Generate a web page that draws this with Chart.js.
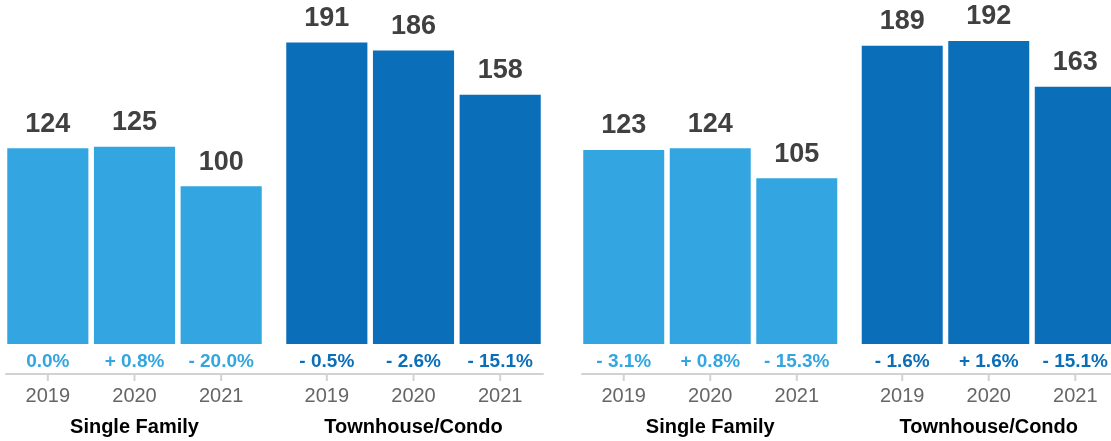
<!DOCTYPE html>
<html>
<head>
<meta charset="utf-8">
<script src="https://cdn.jsdelivr.net/npm/chart.js@4/dist/chart.umd.min.js"></script>
<style>
  html, body { margin: 0; padding: 0; background: #fff; }
  body { width: 1111px; height: 441px; overflow: hidden; position: relative; }
  canvas { position: absolute; top: 0; }
</style>
</head>
<body>
<canvas id="left" width="558" height="441" style="left:-5px"></canvas>
<canvas id="right" width="557" height="441" style="left:571px"></canvas>
<script>
// ---- data ----
const groups = ['Single Family', 'Townhouse/Condo'];
const years = ['2019', '2020', '2021'];

const leftSingleFamily = [124, 125, 100];
const leftTownhouse = [191, 186, 158];
const leftSingleFamilyChange = ['0.0%', '+ 0.8%', '- 20.0%'];
const leftTownhouseChange = ['- 0.5%', '- 2.6%', '- 15.1%'];

const rightSingleFamily = [123, 124, 105];
const rightTownhouse = [189, 192, 163];
const rightSingleFamilyChange = ['- 3.1%', '+ 0.8%', '- 15.3%'];
const rightTownhouseChange = ['- 1.6%', '+ 1.6%', '- 15.1%'];

const groupColors = ['#33a6e1', '#0a6eb9'];
const FONT = '"Liberation Sans", Arial, Helvetica, sans-serif';

const decorPlugin = {
  id: 'panelDecor',
  afterDatasetsDraw(chart) {
    const cfg = chart.options.plugins.panelDecor;
    const { ctx, chartArea } = chart;
    const bottom = chartArea.bottom;
    const nDs = chart.data.datasets.length;
    const firstBar = chart.getDatasetMeta(0).data[0];
    const lastMeta = chart.getDatasetMeta(nDs - 1);
    const lastBar = lastMeta.data[lastMeta.data.length - 1];

    ctx.save();
    // axis line
    ctx.strokeStyle = '#d2d2d2';
    ctx.lineWidth = 2;
    ctx.beginPath();
    ctx.moveTo(firstBar.x - firstBar.width / 2 - 2, bottom);
    ctx.lineTo(lastBar.x + lastBar.width / 2 + 3, bottom);
    ctx.stroke();

    ctx.textAlign = 'center';
    ctx.textBaseline = 'middle';
    for (let d = 0; d < nDs; d++) {
      const meta = chart.getDatasetMeta(d);
      meta.data.forEach((bar, g) => {
        const val = chart.data.datasets[d].data[g];
        // tick mark
        ctx.strokeStyle = '#d2d2d2';
        ctx.lineWidth = 2;
        ctx.beginPath();
        ctx.moveTo(bar.x, bottom);
        ctx.lineTo(bar.x, bottom + 7);
        ctx.stroke();
        // value label
        ctx.fillStyle = '#404040';
        ctx.font = 'bold 27px ' + FONT;
        ctx.fillText(String(val), bar.x, bar.y - 24);
        // change label
        ctx.fillStyle = groupColors[g];
        ctx.font = 'bold 19px ' + FONT;
        ctx.fillText(cfg.changes[g][d], bar.x, bottom - 12);
        // year label
        ctx.fillStyle = '#666666';
        ctx.font = '20px ' + FONT;
        ctx.fillText(years[d], bar.x, bottom + 22);
      });
    }
    ctx.restore();
  }
};

function makeChart(id, sf, th, sfChange, thChange) {
  const datasets = years.map((y, k) => ({
    label: y,
    data: [sf[k], th[k]],
    backgroundColor: groupColors,
    borderWidth: 0,
    categoryPercentage: 0.932,
    barPercentage: 0.936
  }));
  return new Chart(document.getElementById(id), {
    type: 'bar',
    data: { labels: groups, datasets },
    options: {
      responsive: false,
      animation: false,
      events: [],
      layout: { padding: 0 },
      plugins: {
        legend: { display: false },
        tooltip: { enabled: false },
        panelDecor: { changes: [sfChange, thChange] }
      },
      scales: {
        y: { display: false, min: -19, max: 218 },
        x: {
          grid: { display: false, drawTicks: false },
          border: { display: false },
          afterFit: (s) => { s.height = 67; },
          ticks: {
            autoSkip: false,
            maxRotation: 0,
            padding: 41,
            color: '#000000',
            font: { family: FONT, size: 20, weight: 'bold' }
          }
        }
      }
    },
    plugins: [decorPlugin]
  });
}

makeChart('left', leftSingleFamily, leftTownhouse, leftSingleFamilyChange, leftTownhouseChange);
makeChart('right', rightSingleFamily, rightTownhouse, rightSingleFamilyChange, rightTownhouseChange);
</script>
</body>
</html>
